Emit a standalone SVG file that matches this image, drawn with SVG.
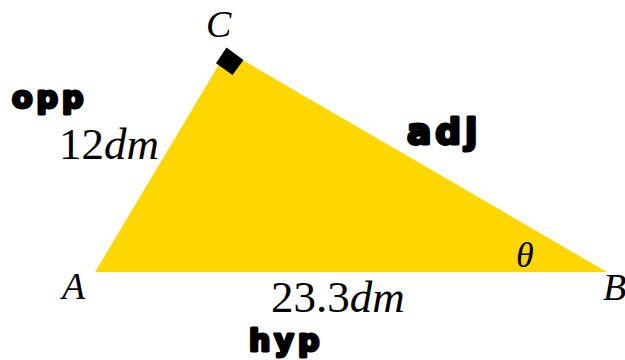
<svg xmlns="http://www.w3.org/2000/svg" width="625" height="360" viewBox="0 0 625 360">
<style>
.math{font-family:"Liberation Serif","Times New Roman",serif;font-style:italic;fill:#000}
.num{font-family:"Liberation Serif","Times New Roman",serif;fill:#000}
.hand{font-family:"DejaVu Sans","Noto Sans",sans-serif;font-weight:bold;fill:#000;stroke:#000;stroke-width:3;stroke-linejoin:round;letter-spacing:4px}
</style>
<rect width="625" height="360" fill="#fff"/>
<g id="triangle">
<polygon points="95,272 227,51 607,272" fill="#FFD700"/>
</g>
<g id="right-angle">
<polygon points="226.5,47.5 243.5,60 232.5,75 216,63.3" fill="#000"/>
</g>
<g id="labels">
<text class="math" x="206" y="37" font-size="38">C</text>
<text class="math" x="62" y="299" font-size="38">A</text>
<text class="math" x="603" y="300" font-size="38">B</text>
<text class="math" x="516" y="267" font-size="36">θ</text>
<text x="59" y="159" font-size="45"><tspan class="num">12</tspan><tspan class="math">dm</tspan></text>
<text x="271" y="312" font-size="45"><tspan class="num">23.3</tspan><tspan class="math">dm</tspan></text>
</g>
<g id="hand-labels">
<text class="hand" x="12" y="108" font-size="30">opp</text>
<text class="hand" x="407" y="144" font-size="36">adj</text>
<text class="hand" x="249" y="351" font-size="30">hyp</text>
</g>
</svg>
